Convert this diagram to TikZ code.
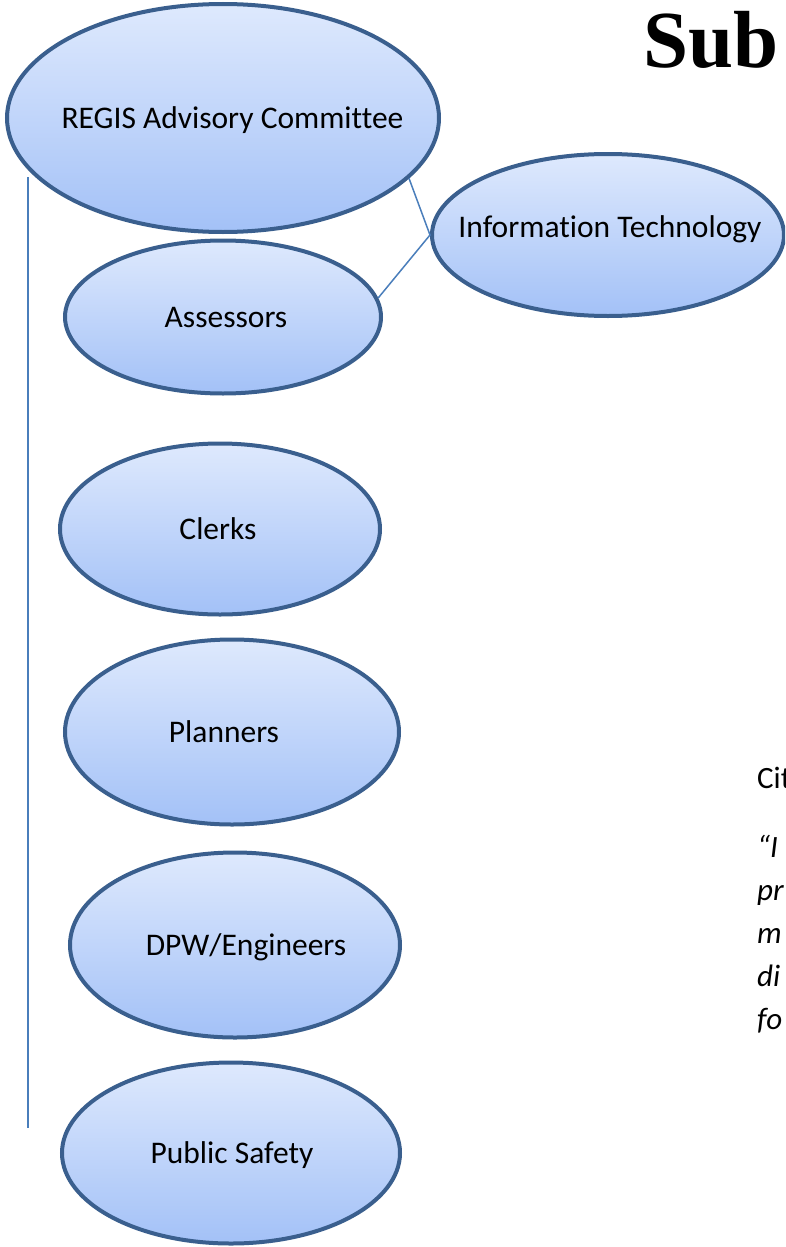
\documentclass[tikz,border=0pt]{standalone}
\usepackage{fontspec}
\setmainfont{Carlito}[Ligatures=NoCommon]
\newfontfamily\titlefont{Liberation Serif}
\usetikzlibrary{shapes.geometric}
\definecolor{edgeblue}{HTML}{3A5F8E}
\definecolor{linkblue}{HTML}{4A7EBB}
\definecolor{topfill}{HTML}{DEE9FD}
\definecolor{botfill}{HTML}{A3C1F7}
\tikzset{
  bubble/.style={ellipse, draw=edgeblue, line width=4pt, top color=topfill, bottom color=botfill, inner sep=0pt},
  lbl/.style={anchor=base, inner sep=0pt, font=\fontsize{31.5}{36}\selectfont, text=black},
  link/.style={draw=linkblue, line width=1.5pt},
  sidetext/.style={anchor=base west, font=\fontsize{31}{36}\selectfont, inner sep=0pt},
  quotetext/.style={sidetext, font=\fontsize{31}{36}\selectfont\itshape},
}
\begin{document}
\begin{tikzpicture}[x=1pt,y=-1pt]
\useasboundingbox (0,0) rectangle (785,1247);
\clip (0,0) rectangle (785,1247);
\node[bubble, minimum width=432pt, minimum height=228pt] (regis) at (223,118) {};
\node[bubble, minimum width=352pt, minimum height=162pt] (it) at (608,235) {};
\node[bubble, minimum width=316pt, minimum height=153pt] (assess) at (223,317) {};
\node[bubble, minimum width=320pt, minimum height=171pt] (clerks) at (220,529) {};
\node[bubble, minimum width=334pt, minimum height=185pt] (plan) at (232,732) {};
\node[bubble, minimum width=330pt, minimum height=185pt] (dpw) at (235,945) {};
\node[bubble, minimum width=338pt, minimum height=181pt] (safety) at (231,1153) {};
\node[lbl] (regist) at (232.5,128) {REGIS Advisory Committee};
\node[lbl] (itt) at (610,237) {Information Technology};
\node[lbl] (assesst) at (226,327) {Assessors};
\node[lbl] (clerkst) at (218,539) {Clerks};
\node[lbl] (plant) at (224,742) {Planners};
\node[lbl] (dpwt) at (246,955) {DPW/Engineers};
\node[lbl] (safetyt) at (232,1163) {Public Safety};
\draw[link] (regis.-18) -- (it.west) -- (assess.7);
\coordinate (vtop) at (28,177);
\coordinate (vbot) at (28,1128);
\draw[link] (vtop) -- (vbot);
\node[anchor=base west, inner sep=0pt, font=\titlefont\bfseries\fontsize{81}{90}\selectfont] (title) at (643,67) {Sub};
\node[sidetext] (cit) at (757,788) {Cit};
\node[quotetext] (q1) at (757,857) {“I};
\node[quotetext] (q2) at (757,900) {pr};
\node[quotetext] (q3) at (757,943) {m};
\node[quotetext] (q4) at (757,986) {di};
\node[quotetext] (q5) at (757,1029) {fo};
\end{tikzpicture}
\end{document}
